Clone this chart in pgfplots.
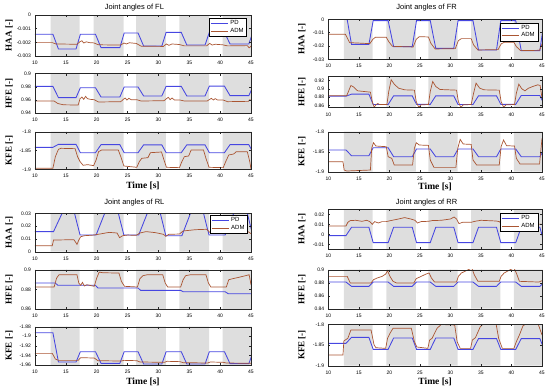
\documentclass[border=0pt]{standalone}
\usepackage{fontspec}
\setmainfont{Liberation Sans}
\newfontfamily\lblfont{Liberation Serif}
\usepackage{pgfplots}
\pgfplotsset{compat=1.18}
\definecolor{pdblue}{RGB}{70,70,225}
\definecolor{admbrown}{RGB}{170,85,50}
\definecolor{bandgray}{RGB}{222,222,222}

\newcommand{\bands}[2]{\addplot[fill=bandgray,draw=none,forget plot] coordinates {(12.55,#1)(12.55,#2)(17.25,#2)(17.25,#1)(19.5,#1)(19.5,#2)(24.35,#2)(24.35,#1)(26.4,#1)(26.4,#2)(31.2,#2)(31.2,#1)(33.4,#1)(33.4,#2)(38.2,#2)(38.2,#1)(40.4,#1)(40.4,#2)(45,#2)(45,#1)};}

\pgfplotsset{
  base/.style={scale only axis, xmin=10, xmax=45, xtick={10,15,...,45},
    tick align=inside, tick pos=both, major tick length=2pt, axis on top,
    scaled y ticks=false, scaled x ticks=false,
    /pgf/number format/assume math mode=true, /pgf/number format/fixed,
    /pgf/number format/precision=3,
    tick label style={font=\fontsize{5}{6}\selectfont},
    xticklabel style={yshift=-1.5pt},
    yticklabel style={xshift=-0.5pt},
    axis line style={black!85}, every tick/.style={black!85},
    every axis x label/.style={at={(axis description cs:0.5,0)}, anchor=center, yshift=-16.5pt, font=\lblfont\bfseries\fontsize{9.5}{10}\selectfont},
    every axis title/.style={font=\fontsize{7.5}{8}\selectfont, at={(axis description cs:0.46,1)}, anchor=center},
    legend cell align=left,
    legend style={anchor=north east, font=\fontsize{6}{6.5}\selectfont, inner xsep=1pt, inner ysep=0.3pt, row sep=-2pt, draw=black, line width=0.4pt},
    legend image code/.code={\draw[##1] (0pt,0pt) -- (17pt,0pt);},
  },
  leftcol/.style={base, width=216pt, every axis y label/.style={at={(axis description cs:-0.12,0.5)}, rotate=90, anchor=center, font=\lblfont\bfseries\fontsize{9}{10}\selectfont}},
  rightcol/.style={base, width=213.7pt, every axis y label/.style={at={(axis description cs:-0.124,0.5)}, rotate=90, anchor=center, font=\lblfont\bfseries\fontsize{9}{10}\selectfont}},
  pd/.style={color=pdblue, line width=0.85pt},
  adm/.style={color=admbrown, line width=0.7pt},
}

\begin{document}
\begin{tikzpicture}
\useasboundingbox (0,0) rectangle (550pt,-391pt);

% ================= FL HAA
\begin{axis}[leftcol, at={(35pt,-56pt)}, anchor=south west, height=41pt,
  ymin=-0.003, ymax=0, ytick={-0.003,-0.002,-0.001,0},
  ylabel={HAA [-]}, title={Joint angles of FL}, title style={yshift=7.7pt},
  legend style={at={(axis description cs:0.981,0.927)}}]
\bands{-0.003}{0}
\addplot[pd] coordinates {(10,-0.00141)(12.9,-0.00141)(13.8,-0.00249)(16.65,-0.00249)(17.35,-0.00141)(19.8,-0.00141)(20.7,-0.00239)(23.75,-0.00239)(24.45,-0.00132)(26.7,-0.00132)(27.6,-0.00227)(30.55,-0.00227)(31.25,-0.00127)(33.7,-0.00127)(34.6,-0.0022)(37.55,-0.0022)(38.25,-0.00127)(40.7,-0.00127)(41.6,-0.00212)(44.65,-0.00212)(45.35,-0.0012)};
\addplot[adm] coordinates {(10,-0.00202)(12.8,-0.00202)(13.4,-0.00212)(16.8,-0.00214)(17.3,-0.00195)(17.6,-0.00188)(17.9,-0.00205)(18.3,-0.00196)(18.8,-0.00202)(19.5,-0.00204)(20.3,-0.00218)(23.9,-0.0022)(24.4,-0.00205)(24.8,-0.00212)(25.3,-0.00203)(26.4,-0.00208)(27.2,-0.00228)(30.8,-0.0023)(31.3,-0.00212)(31.7,-0.00222)(32.2,-0.00212)(33.4,-0.00216)(34.2,-0.00226)(37.8,-0.00226)(38.3,-0.00208)(38.7,-0.0022)(39.2,-0.00214)(40.4,-0.00218)(41.2,-0.00226)(44.4,-0.00224)(44.7,-0.0024)(45,-0.00228)};
\legend{PD,ADM}
\end{axis}

% ================= FL HFE
\begin{axis}[leftcol, at={(35pt,-113pt)}, anchor=south west, height=39.3pt,
  ymin=0.94, ymax=1, ytick={0.94,0.96,0.98,1}, yticklabels={0.94,0.96,0.98,0.9},
  ylabel={HFE [-]}]
\bands{0.94}{1}
\addplot[pd] coordinates {(10,0.9807)(12.9,0.9807)(13.8,0.9634)(16.65,0.9634)(17.35,0.9786)(19.8,0.9786)(20.7,0.9644)(23.75,0.9644)(24.45,0.9797)(26.7,0.9797)(27.6,0.966)(30.55,0.966)(31.25,0.9807)(33.7,0.9807)(34.6,0.966)(37.55,0.966)(38.25,0.981)(40.7,0.981)(41.6,0.9665)(44.65,0.9665)(45.35,0.981)};
\addplot[adm] coordinates {(10,0.9583)(13.1,0.9583)(13.7,0.9545)(14.6,0.9525)(17.0,0.9522)(17.3,0.9619)(17.6,0.9644)(17.9,0.9608)(18.2,0.9654)(18.5,0.9619)(19.0,0.9608)(19.6,0.9603)(20.3,0.9568)(23.9,0.9573)(24.3,0.9608)(24.6,0.9629)(24.9,0.9598)(25.2,0.9624)(25.6,0.9603)(26.5,0.9603)(27.2,0.9583)(30.9,0.9588)(31.3,0.9619)(31.6,0.9639)(31.9,0.9603)(32.2,0.9629)(32.6,0.9598)(33.5,0.9598)(34.2,0.9583)(37.9,0.9583)(38.3,0.9608)(38.6,0.9624)(38.9,0.9598)(39.2,0.9619)(39.6,0.9598)(40.5,0.9598)(41.2,0.9573)(44.6,0.9578)(44.8,0.9603)(45,0.9593)};
\end{axis}

% ================= FL KFE
\begin{axis}[leftcol, at={(35pt,-169.3pt)}, anchor=south west, height=37.6pt,
  ymin=-1.9, ymax=-1.8, ytick={-1.9,-1.85,-1.8},
  ylabel={KFE [-]}, xlabel={Time [s]}]
\bands{-1.9}{-1.8}
\addplot[pd] coordinates {(10,-1.8416)(12.9,-1.8416)(13.8,-1.8336)(16.65,-1.8336)(17.35,-1.8558)(19.8,-1.8558)(20.7,-1.8345)(23.75,-1.8345)(24.45,-1.8558)(26.7,-1.8558)(27.6,-1.835)(30.55,-1.835)(31.25,-1.8558)(33.7,-1.8558)(34.6,-1.835)(37.55,-1.835)(38.25,-1.8558)(40.7,-1.8558)(41.6,-1.8345)(44.65,-1.8345)(45.35,-1.8558)};
\addplot[adm] coordinates {(10,-1.8973)(12.9,-1.8973)(13.3,-1.8664)(13.8,-1.8469)(14.2,-1.8442)(16.5,-1.8451)(16.9,-1.8664)(17.3,-1.8796)(17.8,-1.8894)(18.5,-1.8876)(19.5,-1.8903)(19.9,-1.8752)(20.3,-1.8531)(20.8,-1.8487)(23.5,-1.8487)(23.9,-1.8664)(24.4,-1.8912)(26.5,-1.8947)(26.9,-1.8796)(27.3,-1.8708)(28.3,-1.869)(28.7,-1.8558)(30.5,-1.854)(30.9,-1.8752)(31.3,-1.8947)(33.4,-1.8956)(33.8,-1.8796)(34.2,-1.8664)(34.9,-1.8646)(35.3,-1.8487)(37.3,-1.8487)(37.7,-1.8708)(38.2,-1.8947)(40.5,-1.8956)(40.9,-1.8796)(41.4,-1.8619)(42.2,-1.8593)(42.6,-1.8531)(44.4,-1.8531)(44.8,-1.8796)(45,-1.8995)};
\end{axis}

% ================= RL HAA
\begin{axis}[leftcol, at={(35pt,-251.7pt)}, anchor=south west, height=38.4pt,
  ymin=0, ymax=0.03, ytick={0,0.01,0.02,0.03},
  ylabel={HAA [-]}, title={Joint angles of RL}, title style={yshift=11pt},
  legend style={at={(axis description cs:0.985,0.956)}}]
\bands{0}{0.03}
\addplot[pd] coordinates {(10,0.01565)(13.0,0.01565)(14.4,0.0301)(16.4,0.0301)(17.3,0.013)(19.9,0.013)(21.3,0.0301)(23.5,0.0301)(24.4,0.013)(26.8,0.013)(28.2,0.0301)(30.3,0.0301)(31.2,0.0125)(33.8,0.0125)(35.2,0.0301)(37.3,0.0301)(38.2,0.013)(40.8,0.013)(42.2,0.0301)(44.4,0.0301)(45.3,0.0125)};
\addplot[adm] coordinates {(10,0.0047)(12.8,0.0047)(13.0,0.0091)(16.3,0.0094)(16.6,0.0073)(16.8,0.0057)(17.1,0.0091)(17.4,0.0117)(18.0,0.0125)(19.5,0.013)(20.5,0.0138)(22.0,0.0151)(23.3,0.0146)(23.7,0.011)(24.2,0.0125)(25.0,0.013)(26.4,0.0128)(27.0,0.0146)(28.0,0.0157)(29.5,0.0149)(30.8,0.0136)(31.2,0.012)(31.7,0.0136)(33.4,0.0138)(34.0,0.0162)(36.0,0.0172)(37.8,0.0175)(38.3,0.0151)(39.5,0.0149)(40.4,0.0151)(41.5,0.0157)(44.5,0.0157)(45,0.0141)};
\legend{PD,ADM}
\end{axis}

% ================= RL HFE
\begin{axis}[leftcol, at={(35pt,-309pt)}, anchor=south west, height=39.3pt,
  ymin=0.86, ymax=0.9, ytick={0.86,0.88,0.9},
  ylabel={HFE [-]}]
\bands{0.86}{0.9}
\addplot[pd] coordinates {(10,0.8864)(13.3,0.8864)(13.7,0.8841)(19.8,0.8841)(20.2,0.8814)(26.7,0.8814)(27.1,0.879)(33.6,0.879)(34.0,0.8776)(40.8,0.8776)(41.3,0.8756)(45,0.8756)};
\addplot[adm] coordinates {(10,0.8824)(13.1,0.8824)(13.5,0.8915)(13.9,0.8949)(16.8,0.8949)(17.1,0.8864)(17.4,0.8841)(17.7,0.8871)(18.0,0.8834)(18.4,0.8847)(19.6,0.8831)(20.0,0.8915)(20.4,0.8976)(21.0,0.8969)(23.6,0.8966)(24.0,0.8881)(24.5,0.8831)(26.6,0.8824)(27.0,0.8908)(27.5,0.8939)(28.2,0.8949)(30.7,0.8949)(31.1,0.8864)(31.5,0.8824)(33.6,0.8824)(34.0,0.8898)(34.4,0.8939)(35.2,0.8949)(37.7,0.8949)(38.1,0.8864)(38.5,0.8824)(41.0,0.8824)(41.4,0.8898)(42.0,0.8908)(43.0,0.8922)(44.3,0.8942)(44.7,0.8949)(45,0.8847)};
\end{axis}

% ================= RL KFE
\begin{axis}[leftcol, at={(35pt,-365pt)}, anchor=south west, height=38.3pt,
  ymin=-1.96, ymax=-1.88, ytick={-1.96,-1.94,-1.92,-1.9,-1.88},
  ylabel={KFE [-]}, xlabel={Time [s]}]
\bands{-1.96}{-1.88}
\addplot[pd] coordinates {(10,-1.8925)(12.9,-1.8925)(13.8,-1.9537)(16.65,-1.9537)(17.35,-1.9322)(19.8,-1.9322)(20.7,-1.9565)(23.75,-1.9565)(24.45,-1.9322)(26.7,-1.9322)(27.6,-1.958)(30.55,-1.958)(31.25,-1.9322)(33.7,-1.9322)(34.6,-1.958)(37.55,-1.958)(38.25,-1.9322)(40.7,-1.9322)(41.6,-1.9572)(44.65,-1.9572)(45.35,-1.9322)};
\addplot[adm] coordinates {(10,-1.9357)(12.8,-1.9357)(13.3,-1.9475)(13.8,-1.9503)(17.0,-1.9503)(17.4,-1.9447)(19.6,-1.9454)(20.2,-1.951)(24.0,-1.9517)(24.4,-1.9503)(26.5,-1.951)(27.0,-1.9537)(31.0,-1.9544)(31.4,-1.9523)(33.5,-1.953)(34.0,-1.9551)(38.0,-1.9558)(38.4,-1.9537)(40.5,-1.9544)(41.0,-1.9558)(45,-1.9565)};
\end{axis}

% ================= FR HAA
\begin{axis}[rightcol, at={(328.3pt,-59.3pt)}, anchor=south west, height=40pt,
  ymin=-0.03, ymax=0, ytick={-0.03,-0.02,-0.01,0},
  ylabel={HAA [-]}, title={Joint angles of FR}, title style={yshift=12pt},
  legend style={at={(axis description cs:0.981,0.915)}}]
\bands{-0.03}{0}
\addplot[pd] coordinates {(10,0.005)(12.9,0.005)(13.8,-0.0188)(16.65,-0.0188)(17.35,-0.001)(19.8,-0.001)(20.7,-0.0205)(23.75,-0.0205)(24.45,-0.001)(26.7,-0.001)(27.6,-0.0218)(30.55,-0.0218)(31.25,-0.001)(33.7,-0.001)(34.6,-0.023)(37.55,-0.023)(38.25,-0.001)(40.7,-0.001)(41.6,-0.0235)(44.65,-0.0235)(45.35,-0.001)};
\addplot[adm] coordinates {(10,-0.01125)(12.8,-0.01125)(13.0,-0.013)(13.5,-0.0175)(16.8,-0.01825)(17.3,-0.015)(17.7,-0.0135)(19.5,-0.0135)(19.9,-0.01675)(20.5,-0.02025)(23.9,-0.02075)(24.4,-0.015)(24.9,-0.013)(26.4,-0.01325)(26.8,-0.018)(27.5,-0.02225)(30.8,-0.022)(31.3,-0.016)(31.8,-0.0145)(33.4,-0.0145)(33.8,-0.01925)(34.5,-0.023)(37.8,-0.02275)(38.3,-0.0185)(38.8,-0.01725)(40.4,-0.01725)(40.8,-0.0205)(41.5,-0.0235)(44.6,-0.02325)(45,-0.0185)};
\legend{PD,ADM}
\end{axis}

% ================= FR HFE
\begin{axis}[rightcol, at={(328.3pt,-107.6pt)}, anchor=south west, height=31.3pt,
  ymin=0.855, ymax=0.93, ytick={0.86,0.88,0.9,0.92},
  ylabel={HFE [-]}]
\bands{0.855}{0.93}
\addplot[pd] coordinates {(10,0.8824)(12.9,0.8824)(13.8,0.8872)(16.65,0.8872)(17.35,0.8625)(19.8,0.8625)(20.7,0.8832)(23.75,0.8832)(24.45,0.8628)(26.7,0.8628)(27.6,0.8832)(30.55,0.8832)(31.25,0.8625)(33.7,0.8625)(34.6,0.8832)(37.55,0.8832)(38.25,0.8628)(40.7,0.8628)(41.6,0.884)(44.65,0.884)(45.35,0.8628)};
\addplot[adm] coordinates {(10,0.8832)(13.0,0.8832)(13.3,0.8936)(13.7,0.908)(14.1,0.9048)(14.8,0.8952)(16.9,0.892)(17.2,0.8696)(17.5,0.856)(17.8,0.8616)(18.1,0.8648)(18.4,0.8624)(19.6,0.8624)(19.9,0.8936)(20.3,0.9216)(20.8,0.9112)(21.5,0.9016)(22.5,0.8976)(24.1,0.8968)(24.4,0.8696)(24.8,0.856)(25.2,0.8616)(26.4,0.8624)(26.7,0.8936)(27.1,0.9176)(27.6,0.9056)(28.3,0.8984)(31.0,0.8968)(31.3,0.8696)(31.7,0.8552)(32.1,0.8616)(33.4,0.8624)(33.8,0.8896)(34.2,0.9136)(34.8,0.9016)(35.5,0.8976)(38.0,0.8968)(38.3,0.8696)(38.7,0.856)(39.1,0.8616)(40.5,0.8624)(40.8,0.8896)(41.2,0.9112)(41.7,0.9)(42.2,0.8952)(42.8,0.9016)(43.5,0.9056)(44.3,0.9096)(44.7,0.908)(45,0.8776)};
\end{axis}

% ================= FR KFE
\begin{axis}[rightcol, at={(328.3pt,-171.7pt)}, anchor=south west, height=40pt,
  ymin=-1.9, ymax=-1.8, ytick={-1.9,-1.85,-1.8},
  ylabel={KFE [-]}, xlabel={Time [s]}, every axis x label/.append style={yshift=1.5pt}]
\bands{-1.9}{-1.8}
\addplot[pd] coordinates {(10,-1.8458)(12.9,-1.8458)(13.8,-1.86)(16.65,-1.86)(17.35,-1.84)(19.8,-1.84)(20.7,-1.8625)(23.75,-1.8625)(24.45,-1.8433)(26.7,-1.8433)(27.6,-1.8625)(30.55,-1.8625)(31.25,-1.8433)(33.7,-1.8433)(34.6,-1.8625)(37.55,-1.8625)(38.25,-1.8433)(40.7,-1.8433)(41.6,-1.8625)(44.65,-1.8625)(45.35,-1.845)};
\addplot[adm] coordinates {(10,-1.875)(12.4,-1.875)(12.6,-1.8958)(13.0,-1.8983)(16.9,-1.8958)(17.1,-1.8417)(17.4,-1.8275)(17.8,-1.8358)(19.5,-1.8375)(19.8,-1.8625)(20.4,-1.8667)(20.8,-1.8833)(23.8,-1.8833)(24.1,-1.8417)(24.4,-1.8275)(24.9,-1.8333)(26.4,-1.8342)(26.7,-1.8708)(27.3,-1.8892)(30.9,-1.8892)(31.2,-1.8417)(31.6,-1.8192)(32.1,-1.8308)(33.4,-1.8317)(33.7,-1.8708)(34.3,-1.8833)(38.0,-1.8833)(38.3,-1.8375)(38.7,-1.8208)(39.2,-1.835)(40.5,-1.8358)(40.8,-1.8667)(41.4,-1.8808)(44.6,-1.8808)(45,-1.8167)};
\end{axis}

% ================= RR HAA
\begin{axis}[rightcol, at={(328.3pt,-249.3pt)}, anchor=south west, height=40pt,
  ymin=-0.015, ymax=0.025, ytick={-0.01,0,0.01,0.02},
  ylabel={HAA [-]}, title={Joint angles of RR}, title style={yshift=7pt},
  legend style={at={(axis description cs:0.981,0.9)}}]
\bands{-0.015}{0.025}
\addplot[pd] coordinates {(10,-0.0013)(12.9,-0.0013)(13.8,0.007)(16.65,0.007)(17.35,-0.0083)(19.8,-0.0083)(20.7,0.007)(23.75,0.007)(24.45,-0.0083)(26.7,-0.0083)(27.6,0.007)(30.55,0.007)(31.25,-0.0083)(33.7,-0.0083)(34.6,0.007)(37.55,0.007)(38.25,-0.0083)(40.7,-0.0083)(41.6,0.007)(44.65,0.007)(45.35,-0.0083)};
\addplot[adm] coordinates {(10,0.0083)(12.9,0.0083)(13.2,0.012)(13.6,0.0137)(14.5,0.014)(15.5,0.013)(16.3,0.014)(16.8,0.0127)(17.2,0.01)(17.6,0.0127)(18.2,0.0113)(18.8,0.0127)(19.5,0.0127)(20.2,0.0137)(21.5,0.0153)(22.5,0.0167)(23.5,0.0153)(24.2,0.014)(24.6,0.0113)(25.2,0.0127)(26.4,0.013)(27.0,0.0137)(28.5,0.014)(30.0,0.0153)(30.6,0.0173)(31.0,0.0153)(31.4,0.0107)(32.0,0.012)(33.4,0.012)(34.0,0.013)(35.0,0.014)(37.5,0.0133)(38.0,0.0127)(38.5,0.01)(39.0,0.0113)(40.4,0.0107)(41.0,0.01)(43.0,0.0107)(45,0.01)};
\legend{PD,ADM}
\end{axis}

% ================= RR HFE
\begin{axis}[rightcol, at={(328.3pt,-308.7pt)}, anchor=south west, height=39pt,
  ymin=0.84, ymax=0.9, ytick={0.84,0.86,0.88,0.9},
  ylabel={HFE [-]}]
\bands{0.84}{0.9}
\addplot[pd] coordinates {(10,0.881)(12.9,0.881)(13.8,0.8744)(16.65,0.8744)(17.35,0.881)(19.8,0.881)(20.7,0.8744)(23.75,0.8744)(24.45,0.881)(26.7,0.881)(27.6,0.8744)(30.55,0.8744)(31.25,0.881)(33.7,0.881)(34.6,0.8744)(37.55,0.8744)(38.25,0.881)(40.7,0.881)(41.6,0.8744)(44.65,0.8744)(45.35,0.881)};
\addplot[adm] coordinates {(10,0.8897)(13.1,0.8897)(13.6,0.8795)(17.0,0.8795)(17.4,0.8846)(18.0,0.8872)(18.8,0.8897)(19.4,0.8933)(19.7,0.8985)(20.1,0.8897)(20.6,0.8821)(21.2,0.8795)(24.0,0.8795)(24.4,0.8862)(25.2,0.8897)(26.0,0.8933)(26.5,0.8949)(26.9,0.8872)(27.4,0.881)(31.0,0.881)(31.3,0.8897)(31.8,0.8949)(32.6,0.8985)(33.5,0.9026)(33.9,0.8923)(34.5,0.8821)(38.0,0.8821)(38.3,0.8897)(38.8,0.8949)(39.8,0.9)(40.4,0.9026)(40.8,0.8949)(41.3,0.8821)(44.5,0.881)(45,0.8831)};
\end{axis}

% ================= RR KFE
\begin{axis}[rightcol, at={(328.3pt,-365.7pt)}, anchor=south west, height=41.4pt,
  ymin=-1.9, ymax=-1.8, ytick={-1.9,-1.85,-1.8},
  ylabel={KFE [-]}, xlabel={Time [s]}]
\bands{-1.9}{-1.8}
\addplot[pd] coordinates {(10,-1.846)(12.9,-1.846)(13.8,-1.8315)(16.65,-1.8315)(17.35,-1.8605)(19.8,-1.8605)(20.7,-1.833)(23.75,-1.833)(24.45,-1.8605)(26.7,-1.8605)(27.6,-1.833)(30.55,-1.833)(31.25,-1.8605)(33.7,-1.8605)(34.6,-1.8345)(37.55,-1.8345)(38.25,-1.8605)(40.7,-1.8605)(41.6,-1.8345)(44.65,-1.8345)(45.35,-1.8605)};
\addplot[adm] coordinates {(10,-1.8742)(12.4,-1.8742)(12.55,-1.8403)(13.2,-1.8339)(13.7,-1.8137)(17.0,-1.8137)(17.5,-1.85)(17.8,-1.8565)(19.4,-1.8581)(19.7,-1.8339)(20.1,-1.8218)(20.6,-1.8097)(23.6,-1.8097)(24.1,-1.8419)(24.5,-1.8548)(26.3,-1.8581)(26.6,-1.8379)(27.0,-1.8339)(27.8,-1.8097)(28.5,-1.8005)(30.7,-1.8016)(31.1,-1.8419)(31.6,-1.8581)(33.3,-1.8581)(33.6,-1.8379)(34.1,-1.8323)(34.9,-1.8056)(35.3,-1.8005)(37.5,-1.8005)(37.9,-1.8339)(38.5,-1.8581)(40.4,-1.8581)(40.8,-1.8419)(41.3,-1.8258)(41.9,-1.8032)(42.3,-1.8)(44.4,-1.8005)(45,-1.8258)};
\end{axis}
\end{tikzpicture}
\end{document}
